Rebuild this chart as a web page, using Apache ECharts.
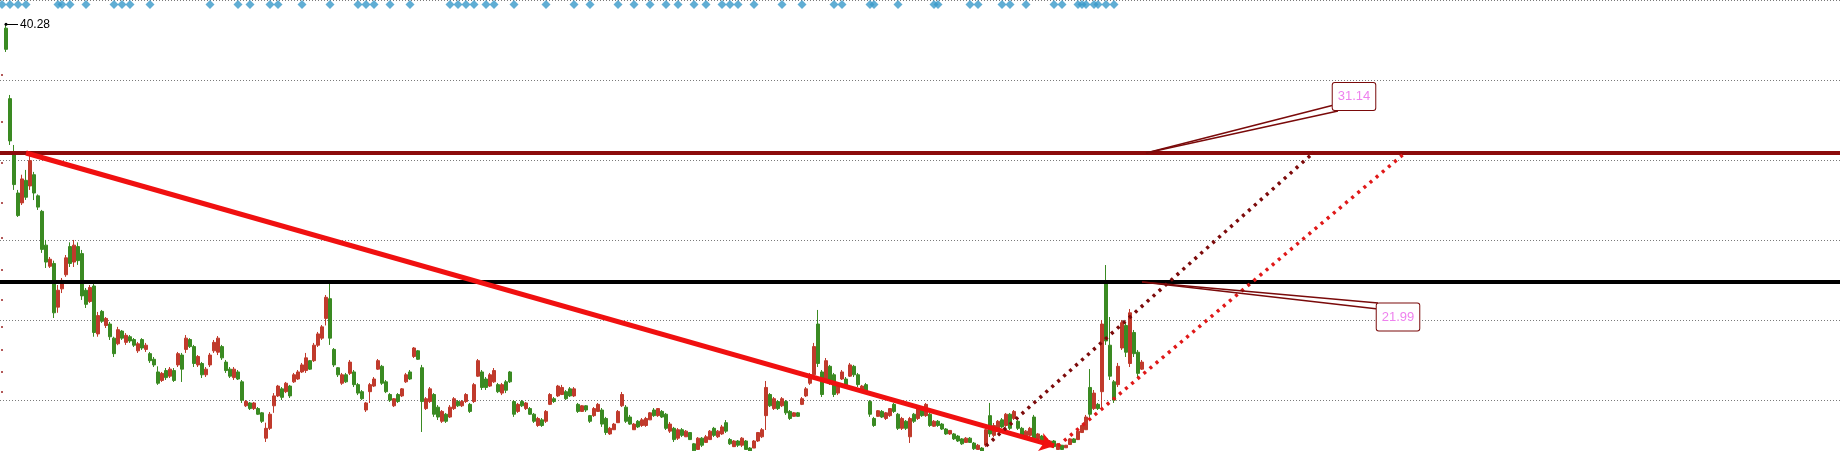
<!DOCTYPE html>
<html>
<head>
<meta charset="utf-8">
<script src="https://cdn.jsdelivr.net/npm/echarts@6/dist/echarts.min.js"></script>
<style>
html, body { margin: 0; padding: 0; background: #fff; }
#chart { width: 1840px; height: 451px; }
</style>
</head>
<body>
<div id="chart"></div>
<script>
// 每个类目占 4px，0 号位留空，K 线从 1 号开始
const categories = Array.from({ length: 460 }, (_, i) => 'D' + i)

// [开, 收, 低, 高]
const ohlc = [
  [40.0,38.5,38.31,40.28],[35.0,32.0,31.71,35.26],[31.0,28.9,28.52,31.71],[28.3,26.7,26.6,28.52],
  [27.6,29.3,27.45,29.6],[29.2,28.0,27.81,29.94],[28.8,30.6,28.52,31.1],[29.6,28.3,27.8,29.8],
  [28.1,27.3,27.1,28.2],[27.0,24.3,24.05,27.1],[24.6,23.4,22.98,24.97],[23.1,23.6,22.98,23.76],
  [23.3,19.8,19.43,23.5],[20.2,21.4,19.8,21.77],[21.5,22.1,21.2,22.27],[22.5,23.7,22.35,23.9],
  [24.5,23.3,23.05,24.8],[23.4,24.6,23.05,24.97],[24.5,23.5,23.2,24.8],[24.0,21.0,20.71,24.26],
  [21.4,20.4,20.14,21.56],[20.6,21.6,20.5,21.77],[21.7,18.4,18.1,21.9],[18.3,19.6,18.1,19.86],
  [19.9,19.2,19.08,20.0],[18.9,19.4,18.72,19.5],[19.0,18.1,17.87,19.15],[18.0,16.9,16.66,18.1],
  [17.6,18.6,17.5,18.8],[18.5,18.0,17.87,18.58],[17.7,18.2,17.52,18.36],[18.1,17.8,17.66,18.22],
  [17.9,17.5,17.37,18.01],[17.1,17.6,16.95,17.73],[17.9,17.3,17.16,18.0],[17.2,17.5,17.02,17.66],
  [16.9,16.4,16.24,17.02],[16.5,16.1,15.95,16.66],[15.6,14.8,14.68,16.0],[15.0,15.5,14.89,15.6],
  [15.7,15.2,15.03,15.88],[15.3,15.8,15.17,15.95],[15.7,15.0,14.89,15.88],[16.1,16.9,15.95,17.02],
  [16.8,15.8,14.89,16.95],[17.2,18.0,16.95,18.22],[17.9,17.4,17.3,18.0],[17.4,16.2,15.95,17.52],
  [16.1,16.7,15.95,16.8],[16.2,15.4,15.17,16.31],[15.4,15.8,15.24,15.95],[16.1,16.8,15.95,16.95],
  [17.1,17.7,16.95,17.87],[17.0,18.0,16.8,18.15],[17.4,16.6,16.45,17.52],[16.3,15.7,15.53,16.45],
  [15.8,15.3,15.17,15.95],[15.2,15.8,15.03,15.95],[15.6,15.1,15.03,15.74],[14.9,13.6,13.4,15.03],
  [13.2,13.5,13.11,13.61],[13.4,13.0,12.9,13.47],[13.0,13.4,12.9,13.47],[13.0,12.6,12.55,13.11],
  [12.7,12.1,11.98,12.76],[10.9,11.6,10.63,12.0],[11.6,12.6,11.48,12.76],[13.2,13.9,12.7,14.1],
  [13.9,14.6,13.82,14.68],[14.4,13.8,13.61,14.53],[14.2,14.8,14.1,14.89],[14.6,13.9,13.75,14.68],
  [14.9,15.4,14.82,15.53],[15.1,15.6,15.03,15.74],[15.6,16.1,15.53,16.24],[15.7,16.6,15.53,16.95],
  [16.4,15.8,15.74,16.45],[16.4,17.5,16.31,17.66],[17.5,18.3,17.37,18.44],[18.0,18.8,17.87,18.93],
  [19.4,20.9,18.9,21.06],[20.8,18.0,17.52,21.99],[17.2,16.1,15.95,17.3],[15.9,15.4,15.24,15.95],
  [14.8,15.4,14.68,15.53],[15.4,14.9,14.82,15.53],[15.5,16.3,15.38,16.45],[15.6,14.7,14.53,15.74],
  [14.7,14.1,13.96,14.82],[14.2,13.7,13.61,14.32],[12.9,13.4,12.76,13.47],[14.2,14.7,13.4,14.82],
  [14.6,15.1,14.53,15.24],[15.8,16.4,15.74,16.52],[16.0,14.8,14.68,16.1],[14.9,14.2,14.1,15.03],
  [14.0,13.6,13.47,14.1],[13.2,13.7,13.11,13.75],[14.0,13.5,13.4,14.1],[13.9,14.4,13.82,14.46],
  [14.9,15.4,14.82,15.53],[15.6,15.1,15.03,15.74],[16.7,17.3,16.59,17.37],[17.1,16.5,16.45,17.16],
  [15.9,13.5,11.34,16.1],[13.0,13.7,12.9,13.82],[13.5,14.4,13.4,14.53],[14.0,12.6,12.41,14.1],
  [13.1,12.4,12.19,13.25],[12.1,12.8,11.98,12.9],[12.6,12.1,11.98,12.69],[12.4,13.1,12.33,13.25],
  [13.0,13.7,12.9,13.82],[13.5,13.2,13.11,13.61],[13.2,13.5,13.11,13.61],[13.5,14.0,13.4,14.1],
  [13.3,12.8,12.69,13.4],[13.5,14.7,13.4,14.82],[15.3,16.4,15.24,16.52],[15.6,14.5,14.32,15.74],
  [15.1,14.5,14.32,15.24],[14.6,15.4,14.53,15.53],[14.9,15.7,14.82,15.88],[14.7,14.2,14.1,14.82],
  [14.1,14.7,13.96,14.82],[14.9,14.3,14.1,15.03],[15.6,14.9,14.82,15.67],[13.5,12.6,12.41,13.61],
  [12.8,13.3,12.69,13.4],[13.5,13.2,13.11,13.61],[13.0,13.4,12.9,13.47],[13.0,12.6,12.55,13.11],
  [12.6,12.1,11.98,12.69],[11.8,12.3,11.7,12.41],[12.2,11.8,11.7,12.33],[12.1,12.8,11.98,12.9],
  [13.3,14.0,13.25,14.1],[13.7,13.5,13.4,13.82],[13.9,14.6,13.82,14.68],[14.0,14.5,13.96,14.68],
  [14.2,13.7,13.61,14.32],[14.4,13.9,13.82,14.53],[13.9,14.4,13.82,14.53],[13.3,12.8,12.69,13.4],
  [12.8,13.2,12.76,13.25],[13.2,12.9,12.76,13.25],[12.5,12.1,11.98,12.55],[12.5,13.0,12.41,13.11],
  [12.8,13.3,12.76,13.4],[12.9,11.9,11.7,13.04],[12.3,11.3,11.13,12.41],[11.2,11.6,11.13,11.7],
  [11.5,11.9,11.48,11.98],[12.0,12.8,11.98,12.9],[13.2,14.0,13.11,14.18],[13.1,12.1,11.98,13.25],
  [12.4,11.9,11.84,12.55],[11.5,11.9,11.48,11.98],[12.1,11.7,11.62,12.19],[11.8,12.2,11.7,12.33],
  [11.8,12.3,11.7,12.41],[12.2,12.7,12.19,12.76],[12.9,12.5,12.41,13.04],[12.5,13.0,12.41,13.04],
  [12.8,12.4,12.33,12.9],[12.6,11.6,11.48,12.69],[11.4,11.9,11.27,12.05],[11.6,10.8,10.63,11.7],
  [10.9,11.5,10.77,11.62],[11.5,11.1,10.98,11.62],[11.0,11.4,10.98,11.48],[11.3,10.8,10.77,11.34],
  [10.5,10.0,9.92,10.56],[10.1,10.9,10.06,10.98],[10.9,10.4,10.27,10.98],[10.6,11.0,10.56,11.13],
  [10.8,11.4,10.77,11.48],[11.6,11.1,10.98,11.7],[11.0,11.4,10.91,11.48],[11.2,11.7,11.13,11.84],
  [12.0,11.4,11.27,12.19],[10.8,10.5,10.42,10.91],[10.3,10.7,10.27,10.77],[10.7,10.4,10.27,10.77],
  [10.4,10.9,10.27,10.98],[10.7,10.1,10.06,10.77],[10.2,9.8,9.7,10.27],[10.2,10.7,10.2,10.77],
  [10.7,11.3,10.63,11.34],[11.0,11.5,10.91,11.62],[12.5,14.5,11.48,14.96],[14.0,13.2,13.11,14.1],
  [13.0,13.7,12.9,13.82],[13.5,13.0,12.9,13.61],[13.2,13.7,13.11,13.82],[13.5,12.7,12.55,13.61],
  [12.8,12.3,12.19,12.9],[12.45,12.7,12.41,12.76],[12.7,12.45,12.41,12.76],[13.3,13.7,13.25,13.82],
  [13.9,14.4,13.82,14.53],[14.8,15.4,14.68,15.53],[15.4,17.4,15.24,17.66],[19.0,16.2,15.95,20.0],
  [15.6,14.0,13.82,15.74],[15.0,16.4,14.82,16.59],[16.0,14.9,14.68,16.1],[15.4,14.0,13.82,15.53],
  [14.1,14.7,13.96,14.82],[15.1,15.6,15.03,15.74],[15.1,14.6,14.53,15.24],[15.3,16.1,15.24,16.24],
  [16.0,15.4,15.24,16.1],[15.4,14.7,14.53,15.53],[14.2,14.6,14.1,14.68],[14.7,14.2,14.1,14.82],
  [13.5,12.6,12.41,13.61],[12.3,11.8,11.7,12.41],[12.45,12.85,12.41,12.9],[12.8,12.4,12.33,12.9],
  [12.3,12.7,12.19,12.76],[12.5,13.0,12.41,13.04],[13.3,12.8,12.69,13.4],[12.6,11.6,11.48,12.69],
  [11.6,12.3,11.48,12.41],[12.1,11.6,11.48,12.19],[11.0,12.3,10.56,12.41],[12.6,12.1,11.98,12.69],
  [12.3,13.0,12.19,13.11],[13.0,12.5,12.41,13.11],[12.5,13.3,12.41,13.4],[12.6,11.8,11.7,12.69],
  [11.75,12.1,11.7,12.19],[12.1,11.8,11.7,12.19],[11.9,11.55,11.48,11.98],[11.55,11.2,11.13,11.62],
  [11.2,11.45,11.13,11.48],[11.2,10.85,10.77,11.27],[11.05,10.7,10.63,11.13],[10.85,10.5,10.42,10.91],
  [10.6,10.9,10.56,10.98],[10.9,10.6,10.56,10.98],[10.55,10.15,10.06,10.63],[10.1,10.4,10.06,10.49],
  [10.2,9.8,9.7,10.27],[10.4,11.5,10.27,11.7],[12.5,11.2,10.98,13.4],[11.1,11.8,10.98,11.98],
  [11.6,12.1,11.48,12.19],[12.2,11.7,11.62,12.33],[11.8,12.6,11.7,12.69],[12.6,11.6,11.48,12.69],
  [12.3,12.8,12.19,12.9],[12.1,11.6,11.48,12.19],[11.6,11.1,10.98,11.7],[10.9,11.4,10.77,11.48],
  [11.1,11.6,10.98,11.7],[12.4,10.9,10.77,12.55],[10.85,11.2,10.77,11.27],[11.05,10.7,10.63,11.13],
  [10.85,10.5,10.42,10.91],[10.35,10.7,10.27,10.77],[10.7,10.3,10.2,10.77],[10.1,10.5,10.06,10.56],
  [10.4,10.1,10.06,10.42],[10.22,10.4,10.2,10.42],[10.45,10.85,10.42,10.91],[10.85,10.6,10.56,10.91],
  [10.8,11.4,10.77,11.48],[11.3,11.8,11.27,11.84],[11.5,12.4,11.48,12.55],[14.5,12.6,12.41,15.81],
  [13.0,14.1,12.9,14.32],[13.3,13.0,12.9,13.4],[14.2,19.0,13.11,19.29],[21.9,17.8,17.52,23.19],
  [17.5,15.3,15.03,19.5],[14.9,13.6,13.4,15.03],[14.7,16.0,14.53,16.24],[17.3,19.1,17.16,19.29],
  [18.9,17.0,16.66,19.08],[16.2,19.8,15.95,20.07],[18.4,16.9,16.66,18.58],[17.0,15.5,15.24,17.16],
  [15.8,16.3,15.74,16.45]
]

// 顶部信号点所在的类目
const signalIdx = [0, 2, 4, 6, 14, 15, 17, 21, 28, 30, 32, 37, 52, 59, 62, 67, 69, 75, 82, 89, 91, 93, 97,
  102, 112, 114, 116, 118, 121, 123, 128, 136, 143, 147, 154, 158, 162, 166, 169, 173, 176, 180, 182, 184,
  188, 195, 200, 208, 210, 217, 218, 224, 233, 234, 242, 244, 250, 252, 256, 263, 265, 269, 270, 271, 273,
  274, 276, 278]
const signalLevel = 41.68

// 左侧小刻度
const leftTicks = [36.68, 33.34, 30.43, 27.59, 25.11, 22.84, 20.71, 18.79, 17.16, 15.6, 14.18]

const peakValue = 40.28
const resistance = 31.14
const support = 21.99

// 趋势线 [类目, 价格]
const trendDown = [[6, 31.14], [263, 10.35]]
const channelUpper = [[246, 10.35], [328, 31.2]]
const channelLower = [[264, 10.35], [351, 31.2]]
const callout31Lines = [[[286, 31.14], [333, 34.55]], [[286, 31.14], [334, 34.12]]]
const callout31Box = [338, 35.15]
const callout22Lines = [[[285, 21.99], [344, 20.5]], [[285, 21.99], [344, 20.07]]]
const callout22Box = [349, 19.5]

const chart = echarts.init(document.getElementById('chart'))

const pairs = list => list.map(p => [{ coord: p[0] }, { coord: p[1] }])
const helper = (name, markLine, extra) => Object.assign({
  name: name,
  type: 'line',
  data: [],
  silent: true,
  z: 5,
  markLine: Object.assign({ silent: true, animation: false, label: { show: false } }, markLine)
}, extra || {})

chart.setOption({
  animation: false,
  backgroundColor: '#ffffff',
  textStyle: { fontFamily: 'Liberation Sans, Arial, sans-serif' },
  grid: { left: 0, top: 0, right: 0, bottom: 0 },
  xAxis: {
    type: 'category',
    data: categories,
    show: false
  },
  yAxis: [
    { type: 'value', min: 9.99, max: 42, show: false },
    {
      // 只用来画 80px 一条的点状网格线，从顶部开始
      type: 'value',
      inverse: true,
      min: 0,
      max: 5.6375,
      interval: 1,
      axisLine: { show: false },
      axisTick: { show: false },
      axisLabel: { show: false },
      splitLine: { show: true, lineStyle: { color: '#7a7a7a', type: [1, 2], width: 1 } }
    }
  ],
  series: [
    {
      name: 'K',
      type: 'candlestick',
      data: ['-'].concat(ohlc),
      barWidth: 3,
      z: 2,
      itemStyle: {
        color: '#c03a2c',
        color0: '#3a8a22',
        borderColor: '#c03a2c',
        borderColor0: '#3a8a22',
        borderWidth: 1
      }
    },
    {
      name: 'signal',
      type: 'scatter',
      data: signalIdx.map(i => [i, signalLevel]),
      symbol: 'diamond',
      symbolSize: [9, 9],
      itemStyle: { color: '#3a9ac9' },
      z: 6
    },
    {
      name: 'tick',
      type: 'scatter',
      data: leftTicks.map(v => [0, v]),
      symbol: 'rect',
      symbolSize: [2, 2],
      itemStyle: { color: '#a03030' }
    },
    helper('resistance', {
      symbol: 'none',
      lineStyle: { color: '#8b0a0a', width: 4, type: 'solid' },
      data: [{ yAxis: resistance }]
    }),
    helper('support', {
      symbol: 'none',
      lineStyle: { color: '#000000', width: 4, type: 'solid' },
      data: [{ yAxis: support }]
    }),
    helper('trend', {
      symbol: ['none', 'arrow'],
      symbolSize: 14,
      lineStyle: { color: '#f01010', width: 5, type: 'solid' },
      data: pairs([trendDown])
    }),
    helper('channelUpper', {
      symbol: 'none',
      lineStyle: { color: '#7d0a0a', width: 3.5, type: [3, 5], cap: 'butt' },
      data: pairs([channelUpper])
    }),
    helper('channelLower', {
      symbol: 'none',
      lineStyle: { color: '#e01818', width: 3.5, type: [3, 5], cap: 'butt' },
      data: pairs([channelLower])
    }),
    helper('callouts', {
      symbol: 'none',
      lineStyle: { color: '#7a0a0a', width: 1.5, type: 'solid' },
      data: pairs(callout31Lines.concat(callout22Lines))
    }, {
      markPoint: {
        silent: true,
        animation: false,
        symbol: 'rect',
        symbolSize: 0,
        label: {
          show: true,
          position: 'inside',
          color: '#ee82ee',
          fontSize: 13,
          lineHeight: 15,
          backgroundColor: '#ffffff',
          borderColor: '#7a0a0a',
          borderWidth: 1,
          borderRadius: 2,
          padding: [6, 5, 6, 5],
          formatter: p => p.value
        },
        data: [
          { coord: callout31Box, value: resistance.toFixed(2) },
          { coord: callout22Box, value: support.toFixed(2) }
        ]
      }
    }),
    helper('peak', {
      symbol: ['circle', 'none'],
      symbolSize: 3,
      lineStyle: { color: '#000000', width: 1, type: 'solid' },
      label: {
        show: true,
        position: 'end',
        distance: 2,
        color: '#000000',
        fontSize: 12,
        formatter: () => peakValue.toFixed(2)
      },
      data: pairs([[[1, peakValue], [4, peakValue]]])
    })
  ]
})
</script>
</body>
</html>
